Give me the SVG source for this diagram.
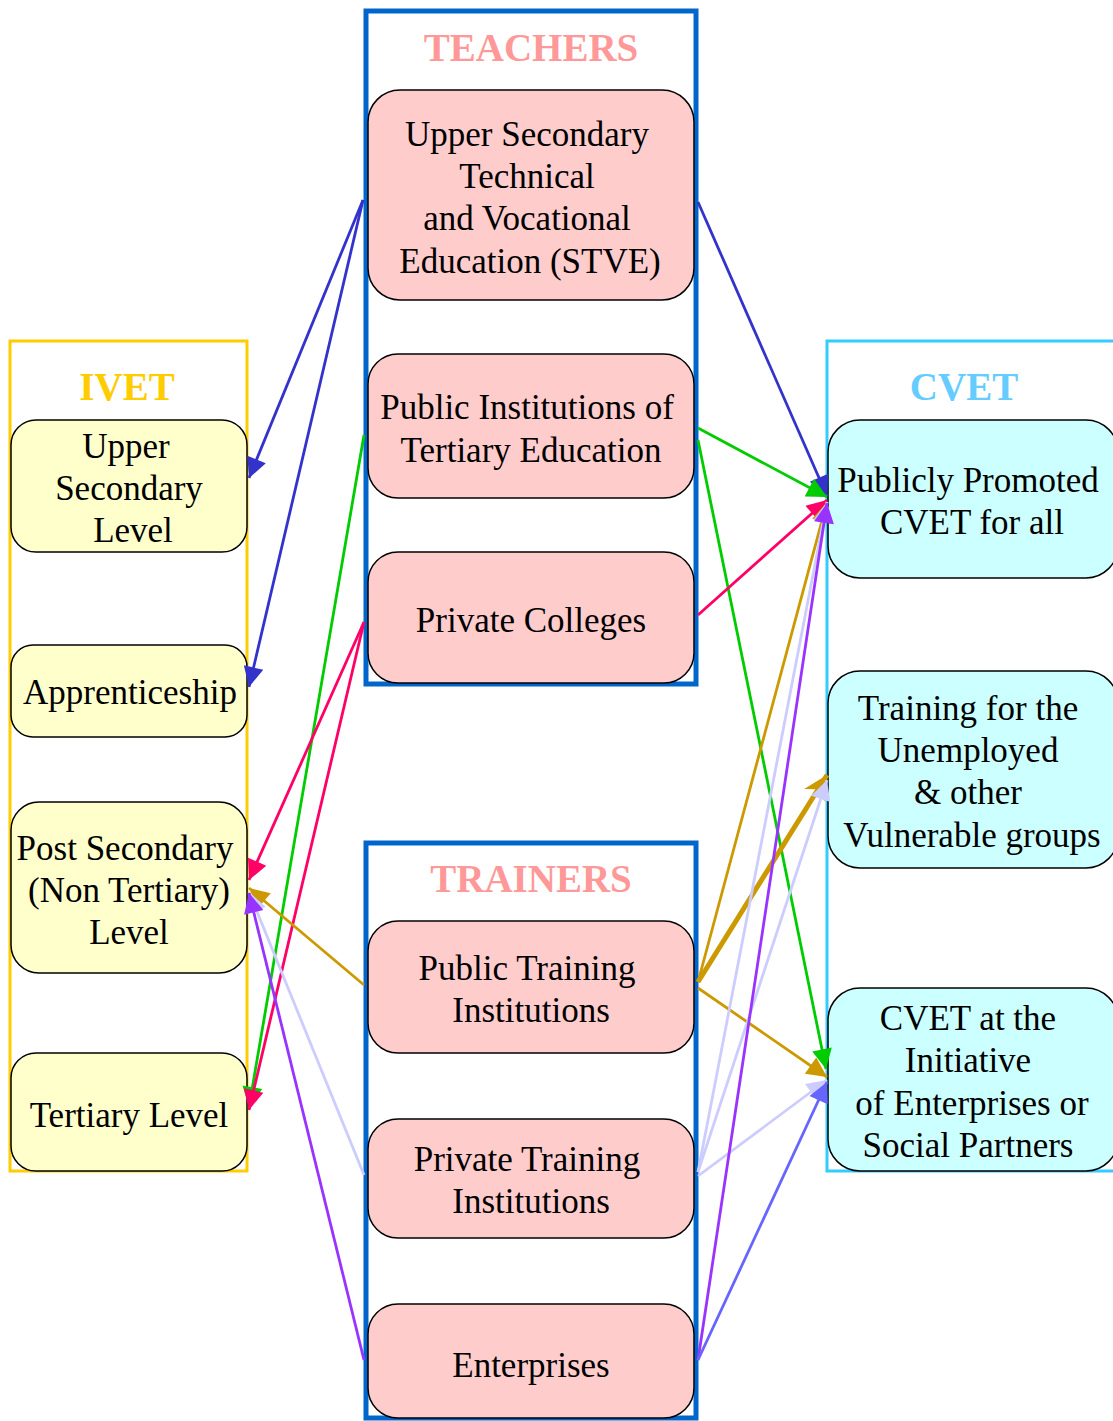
<svg xmlns="http://www.w3.org/2000/svg" width="1113" height="1421" viewBox="0 0 1113 1421">
<style>
.t{font-family:"Liberation Serif","Times New Roman",serif;font-size:35px;fill:#000;text-anchor:middle}
.ti{font-family:"Liberation Serif","Times New Roman",serif;font-size:39px;font-weight:bold;text-anchor:middle}
.iv{fill:#ffffcc;stroke:#000;stroke-width:1.5}
.te{fill:#ffcccc;stroke:#000;stroke-width:1.5}
.cv{fill:#ccffff;stroke:#000;stroke-width:1.5}
.e{fill:none;stroke-width:2.8}
.thick{stroke-width:5}
</style>
<defs>
<marker id="mB" viewBox="0 0 10 10" refX="10" refY="5" markerWidth="25" markerHeight="20" markerUnits="userSpaceOnUse" orient="auto"><path d="M0,0L10,5L0,10z" fill="#3333cc"/></marker>
<marker id="mG" viewBox="0 0 10 10" refX="10" refY="5" markerWidth="25" markerHeight="20" markerUnits="userSpaceOnUse" orient="auto"><path d="M0,0L10,5L0,10z" fill="#00cc00"/></marker>
<marker id="mR" viewBox="0 0 10 10" refX="10" refY="5" markerWidth="25" markerHeight="20" markerUnits="userSpaceOnUse" orient="auto"><path d="M0,0L10,5L0,10z" fill="#ff0066"/></marker>
<marker id="mO" viewBox="0 0 10 10" refX="10" refY="5" markerWidth="25" markerHeight="20" markerUnits="userSpaceOnUse" orient="auto"><path d="M0,0L10,5L0,10z" fill="#cc9900"/></marker>
<marker id="mO2" viewBox="0 0 10 10" refX="10" refY="5" markerWidth="28" markerHeight="24" markerUnits="userSpaceOnUse" orient="auto"><path d="M0,0L10,5L0,10L3,5z" fill="#cc9900"/></marker>
<marker id="mL" viewBox="0 0 10 10" refX="10" refY="5" markerWidth="25" markerHeight="20" markerUnits="userSpaceOnUse" orient="auto"><path d="M0,0L10,5L0,10z" fill="#ccccff"/></marker>
<marker id="mP" viewBox="0 0 10 10" refX="10" refY="5" markerWidth="25" markerHeight="20" markerUnits="userSpaceOnUse" orient="auto"><path d="M0,0L10,5L0,10z" fill="#9933ff"/></marker>
<marker id="mM" viewBox="0 0 10 10" refX="10" refY="5" markerWidth="25" markerHeight="20" markerUnits="userSpaceOnUse" orient="auto"><path d="M0,0L10,5L0,10z" fill="#6666ff"/></marker>
</defs>
<rect width="1113" height="1421" fill="#fff"/>

<g id="cluster_ivet">
<rect x="10" y="341" width="237" height="830" fill="none" stroke="#ffcc00" stroke-width="3"/>
<text class="ti" x="127" y="400" fill="#ffcc00">IVET</text>
</g>
<g id="cluster_teachers">
<rect x="366" y="11" width="330" height="673" fill="none" stroke="#0066cc" stroke-width="5"/>
<text class="ti" x="531" y="61" fill="#ff9999">TEACHERS</text>
</g>
<g id="cluster_trainers">
<rect x="366" y="843" width="330" height="575" fill="none" stroke="#0066cc" stroke-width="5"/>
<text class="ti" x="531" y="892" fill="#ff9999">TRAINERS</text>
</g>
<g id="cluster_cvet">
<rect x="827" y="341" width="290" height="830" fill="none" stroke="#33ccff" stroke-width="3"/>
<text class="ti" x="964" y="400" fill="#66ccff">CVET</text>
</g>

<g id="ivet_upper">
<rect class="iv" x="11" y="420" width="236" height="132" rx="25"/>
<text class="t" x="126" y="458">Upper</text>
<text class="t" x="129" y="500">Secondary</text>
<text class="t" x="133" y="542">Level</text>
</g>
<g id="ivet_apprenticeship">
<rect class="iv" x="11" y="645" width="236" height="92" rx="22"/>
<text class="t" x="130" y="704">Apprenticeship</text>
</g>
<g id="ivet_postsecondary">
<rect class="iv" x="11" y="802" width="236" height="171" rx="28"/>
<text class="t" x="125" y="860">Post Secondary</text>
<text class="t" x="129" y="902">(Non Tertiary)</text>
<text class="t" x="129" y="944">Level</text>
</g>
<g id="ivet_tertiary">
<rect class="iv" x="11" y="1053" width="236" height="118" rx="25"/>
<text class="t" x="129" y="1127">Tertiary Level</text>
</g>

<g id="t_stve">
<rect class="te" x="368" y="90" width="326" height="210" rx="32"/>
<text class="t" x="527" y="146">Upper Secondary</text>
<text class="t" x="527" y="188">Technical</text>
<text class="t" x="527" y="230">and Vocational</text>
<text class="t" x="530" y="273">Education (STVE)</text>
</g>
<g id="t_public_tertiary">
<rect class="te" x="368" y="354" width="326" height="144" rx="30"/>
<text class="t" x="527" y="419">Public Institutions of</text>
<text class="t" x="531" y="462">Tertiary Education</text>
</g>
<g id="t_private_colleges">
<rect class="te" x="368" y="552" width="326" height="131" rx="30"/>
<text class="t" x="531" y="632">Private Colleges</text>
</g>

<g id="tr_public">
<rect class="te" x="368" y="921" width="326" height="132" rx="30"/>
<text class="t" x="527" y="980">Public Training</text>
<text class="t" x="531" y="1022">Institutions</text>
</g>
<g id="tr_private">
<rect class="te" x="368" y="1119" width="326" height="119" rx="30"/>
<text class="t" x="527" y="1171">Private Training</text>
<text class="t" x="531" y="1213">Institutions</text>
</g>
<g id="tr_enterprises">
<rect class="te" x="368" y="1304" width="326" height="114" rx="30"/>
<text class="t" x="531" y="1377">Enterprises</text>
</g>

<g id="c_public">
<rect class="cv" x="828" y="420" width="290" height="158" rx="32"/>
<text class="t" x="968" y="492">Publicly Promoted</text>
<text class="t" x="972" y="534">CVET for all</text>
</g>
<g id="c_unemployed">
<rect class="cv" x="828" y="671" width="290" height="197" rx="32"/>
<text class="t" x="968" y="720">Training for the</text>
<text class="t" x="968" y="762">Unemployed</text>
<text class="t" x="968" y="804">&amp; other</text>
<text class="t" x="972" y="847">Vulnerable groups</text>
</g>
<g id="c_initiative">
<rect class="cv" x="828" y="988" width="290" height="183" rx="32"/>
<text class="t" x="968" y="1030">CVET at the</text>
<text class="t" x="968" y="1072">Initiative</text>
<text class="t" x="972" y="1115">of Enterprises or</text>
<text class="t" x="968" y="1157">Social Partners</text>
</g>

<g id="connectors">
<line class="e" x1="363" y1="200" x2="249" y2="478" stroke="#3333cc" marker-end="url(#mB)"/>
<line class="e" x1="363" y1="200" x2="249" y2="687" stroke="#3333cc" marker-end="url(#mB)"/>
<line class="e" x1="698" y1="202" x2="827" y2="496" stroke="#3333cc" marker-end="url(#mB)"/>
<line class="e" x1="364" y1="435" x2="249" y2="1107" stroke="#00cc00" marker-end="url(#mG)"/>
<line class="e" x1="698" y1="428" x2="827" y2="497" stroke="#00cc00" marker-end="url(#mG)"/>
<line class="e" x1="698" y1="440" x2="826" y2="1069" stroke="#00cc00" marker-end="url(#mG)"/>
<line class="e" x1="364" y1="622" x2="249" y2="880" stroke="#ff0066" marker-end="url(#mR)"/>
<line class="e" x1="364" y1="622" x2="249" y2="1110" stroke="#ff0066" marker-end="url(#mR)"/>
<line class="e" x1="698" y1="615" x2="827" y2="500" stroke="#ff0066" marker-end="url(#mR)"/>
<line class="e" x1="364" y1="985" x2="249" y2="888" stroke="#cc9900" marker-end="url(#mO)"/>
<line class="e" x1="698" y1="982" x2="827" y2="502" stroke="#cc9900" marker-end="url(#mO)"/>
<line class="e thick" x1="698" y1="982" x2="827" y2="775" stroke="#cc9900" marker-end="url(#mO2)"/>
<line class="e" x1="698" y1="988" x2="827" y2="1077" stroke="#cc9900" marker-end="url(#mO)"/>
<line class="e" x1="364" y1="1175" x2="249" y2="892" stroke="#ccccff" marker-end="url(#mL)"/>
<line class="e" x1="698" y1="1172" x2="827" y2="502" stroke="#ccccff" marker-end="url(#mL)"/>
<line class="e" x1="698" y1="1172" x2="827" y2="780" stroke="#ccccff" marker-end="url(#mL)"/>
<line class="e" x1="698" y1="1176" x2="827" y2="1080" stroke="#ccccff" marker-end="url(#mL)"/>
<line class="e" x1="364" y1="1360" x2="249" y2="893" stroke="#9933ff" marker-end="url(#mP)"/>
<line class="e" x1="698" y1="1360" x2="827" y2="503" stroke="#9933ff" marker-end="url(#mP)"/>
<line class="e" x1="698" y1="1360" x2="827" y2="1082" stroke="#6666ff" marker-end="url(#mM)"/>
</g>
</svg>
